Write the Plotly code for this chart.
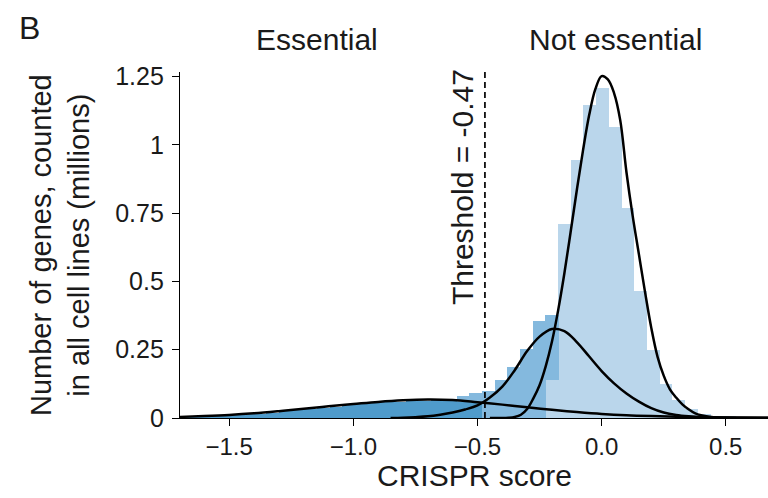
import plotly.graph_objects as go

# ---- data ----
bin_centers = [-1.682, -1.631, -1.580, -1.529, -1.478, -1.427, -1.376, -1.325, -1.274, -1.223,
               -1.171, -1.120, -1.069, -1.018, -0.967, -0.916, -0.865, -0.814, -0.763, -0.711,
               -0.660, -0.609, -0.558, -0.507, -0.456, -0.405, -0.354, -0.303, -0.252, -0.200,
               -0.149, -0.098, -0.047, 0.004, 0.055, 0.106, 0.157, 0.208, 0.259, 0.311,
               0.362, 0.413, 0.464, 0.515, 0.566, 0.617, 0.668]
bin_width = 0.0511

essential_counts = [0.002, 0.003, 0.005, 0.007, 0.010, 0.013, 0.016, 0.020, 0.024, 0.028,
                    0.033, 0.037, 0.042, 0.046, 0.050, 0.054, 0.057, 0.060, 0.062, 0.064,
                    0.065, 0.066, 0.060, 0.058, 0, 0, 0, 0, 0, 0,
                    0, 0, 0, 0, 0, 0, 0, 0, 0, 0,
                    0, 0, 0, 0, 0, 0, 0]
middle_counts = [0, 0, 0, 0, 0, 0, 0, 0, 0, 0,
                 0, 0, 0, 0, 0, 0, 0, 0, 0, 0,
                 0, 0, 0.019, 0.034, 0.099, 0.138, 0.187, 0.254, 0.355, 0.238,
                 0, 0, 0, 0, 0, 0, 0, 0, 0, 0,
                 0, 0, 0, 0, 0, 0, 0]
nonessential_counts = [0, 0, 0, 0, 0, 0, 0, 0, 0, 0,
                       0, 0, 0, 0, 0, 0, 0, 0, 0, 0,
                       0, 0, 0, 0, 0, 0, 0, 0, 0, 0.138,
                       0.712, 0.943, 1.145, 1.210, 1.066, 0.770, 0.465, 0.248, 0.123, 0.065,
                       0.034, 0.016, 0.006, 0.005, 0.003, 0.002, 0.001]

fit1_x = [-1.70, -1.6, -1.5, -1.4, -1.3, -1.2, -1.1, -1.0, -0.9, -0.8, -0.7, -0.6, -0.5,
          -0.4, -0.3, -0.2, -0.1, 0.0, 0.1, 0.2, 0.3, 0.4, 0.5, 0.67]
fit1_y = [0.004, 0.007, 0.011, 0.017, 0.025, 0.034, 0.043, 0.051, 0.059, 0.065, 0.068, 0.066, 0.058,
          0.049, 0.039, 0.030, 0.022, 0.015, 0.010, 0.007, 0.005, 0.003, 0.002, 0.001]

fit2_x = [-0.85, -0.80, -0.75, -0.70, -0.65, -0.60, -0.55, -0.50, -0.45, -0.40, -0.35, -0.30,
          -0.25, -0.20, -0.15, -0.10, -0.05, 0.00, 0.05, 0.10, 0.15, 0.20, 0.25, 0.30, 0.35,
          0.40, 0.50, 0.67]
fit2_y = [0.0, 0.001, 0.003, 0.006, 0.012, 0.020, 0.031, 0.046, 0.075, 0.115, 0.175, 0.245,
          0.298, 0.326, 0.318, 0.278, 0.225, 0.172, 0.127, 0.090, 0.060, 0.036, 0.020, 0.011, 0.006,
          0.003, 0.001, 0.0]

fit3_x = [-0.45, -0.40, -0.375, -0.35, -0.325, -0.30, -0.275, -0.25, -0.225, -0.20, -0.175, -0.15,
          -0.125, -0.10, -0.075, -0.05, -0.025, 0.0, 0.025, 0.05, 0.075, 0.10, 0.125, 0.15, 0.175,
          0.20, 0.225, 0.25, 0.275, 0.30, 0.325, 0.35, 0.375, 0.40, 0.45, 0.50, 0.67]
fit3_y = [0.0, 0.0, 0.001, 0.004, 0.012, 0.033, 0.072, 0.12, 0.19, 0.28, 0.395, 0.53,
          0.68, 0.834, 0.98, 1.11, 1.205, 1.252, 1.24, 1.19, 1.09, 0.90, 0.74, 0.60, 0.46,
          0.33, 0.225, 0.155, 0.105, 0.075, 0.05, 0.032, 0.018, 0.010, 0.003, 0.001, 0.0]

threshold = -0.47
x_ticks = [-1.5, -1.0, -0.5, 0.0, 0.5]
x_ticktext = ["\u22121.5", "\u22121.0", "\u22120.5", "0.0", "0.5"]
y_ticks = [0, 0.25, 0.5, 0.75, 1, 1.25]
y_ticktext = ["0", "0.25", "0.5", "0.75", "1", "1.25"]

FONT = "Liberation Sans"
TXT = "#1a1a1a"

fig = go.Figure()
for vals, col in [(nonessential_counts, "#bad6eb"), (essential_counts, "#4f9bcb"), (middle_counts, "#84b9de")]:
    fig.add_trace(go.Bar(x=bin_centers, y=vals, width=bin_width * 1.03,
                         marker=dict(color=col, line=dict(width=0)), showlegend=False))

for fx, fy in [(fit1_x, fit1_y), (fit2_x, fit2_y), (fit3_x, fit3_y)]:
    fig.add_trace(go.Scatter(x=fx, y=fy, mode="lines",
                             line=dict(color="black", width=2.5, shape="spline", smoothing=1),
                             showlegend=False))

fig.add_shape(type="line", xref="x", yref="paper", x0=threshold, x1=threshold, y0=0, y1=1,
              line=dict(color="black", width=1.7, dash="6px,4px"))

fig.update_layout(
    width=768, height=498,
    margin=dict(l=180, r=0, t=72, b=80),
    barmode="stack", bargap=0,
    plot_bgcolor="white", paper_bgcolor="white",
    font=dict(family=FONT, size=24, color=TXT),
    xaxis=dict(range=[-1.698, 0.670], tickvals=x_ticks, ticktext=x_ticktext,
               showline=True, linecolor="black", linewidth=1.3, ticks="outside", ticklen=7,
               tickwidth=1.3, tickcolor="black", showgrid=False, zeroline=False,
               tickfont=dict(size=24, family=FONT, color=TXT)),
    yaxis=dict(range=[0, 1.267], tickvals=y_ticks, ticktext=y_ticktext,
               showline=True, linecolor="black", linewidth=1.3, ticks="outside", ticklen=7,
               tickwidth=1.3, tickcolor="black", showgrid=False, zeroline=False,
               ticklabelstandoff=3,
               tickfont=dict(size=25, family=FONT, color=TXT)),
)

ann = [
    dict(text="CRISPR score", x=0.5, y=-0.1676, xref="paper", yref="paper", showarrow=False,
         xanchor="center", yanchor="middle", font=dict(size=30)),
    dict(text="Number of genes, counted<br>in all cell lines (millions)", x=-0.204, y=0.5,
         xref="paper", yref="paper", showarrow=False, textangle=-90, xanchor="center", yanchor="middle",
         font=dict(size=29)),
    dict(text="B", x=-0.2568, y=1.127, xref="paper", yref="paper", showarrow=False,
         xanchor="center", yanchor="middle", font=dict(size=32)),
    dict(text="Essential", x=0.233, y=1.0925, xref="paper", yref="paper", showarrow=False,
         xanchor="center", yanchor="middle", font=dict(size=30)),
    dict(text="Not essential", x=0.7398, y=1.0925, xref="paper", yref="paper", showarrow=False,
         xanchor="center", yanchor="middle", font=dict(size=30)),
    dict(text="Threshold = -0.47", x=-0.562, y=0.6676, xref="x", yref="paper", showarrow=False,
         textangle=-90, xanchor="center", yanchor="middle", font=dict(size=30)),
]
fig.update_layout(annotations=ann)

fig.write_html("out.html")
